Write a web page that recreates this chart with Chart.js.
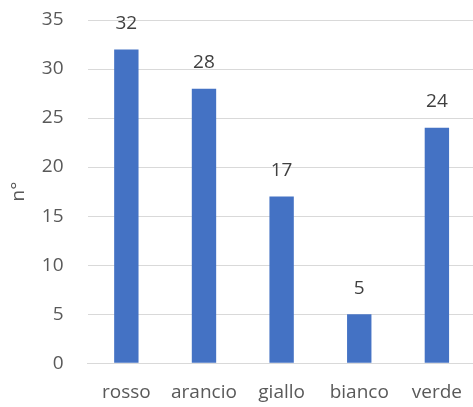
<!DOCTYPE html>
<html>
<head>
<meta charset="utf-8">
<script src="https://cdn.jsdelivr.net/npm/chart.js@4"></script>
<style>
  html, body { margin: 0; padding: 0; background: #fff; overflow: hidden; }
  #wrap { width: 480px; height: 407px; position: relative; }
</style>
</head>
<body>
<div id="wrap"><canvas id="chart"></canvas></div>
<script>
// chart data
const categories = ['rosso', 'arancio', 'giallo', 'bianco', 'verde'];
const counts = [32, 28, 17, 5, 24];
const yTicks = [0, 5, 10, 15, 20, 25, 30, 35];

// draw value labels above each bar
const valueLabels = {
    id: 'valueLabels',
    afterDatasetsDraw(chart) {
        const ctx = chart.ctx;
        const meta = chart.getDatasetMeta(0);
        ctx.save();
        ctx.font = '19px "Open Sans", sans-serif';
        ctx.fillStyle = '#404040';
        ctx.textAlign = 'center';
        ctx.textBaseline = 'middle';
        meta.data.forEach((bar, i) => {
            ctx.fillText(String(counts[i]), bar.x, bar.y - 26);
        });
        ctx.restore();
    }
};

new Chart(document.getElementById('chart'), {
    type: 'bar',
    data: {
        labels: categories,
        datasets: [{
            data: counts,
            backgroundColor: '#4472C4',
            categoryPercentage: 1,
            barPercentage: 0.314
        }]
    },
    options: {
        responsive: true,
        maintainAspectRatio: false,
        animation: false,
        layout: { padding: { top: 20, right: 0, left: 7, bottom: 3 } },
        plugins: {
            legend: { display: false },
            tooltip: { enabled: false }
        },
        scales: {
            y: {
                min: 0,
                max: 35,
                afterBuildTicks: axis => { axis.ticks = yTicks.map(v => ({ value: v })); },
                // tick padding is counted twice by the library, and also vertically
                afterFit: axis => {
                    axis.width -= 24;
                    axis.paddingTop = 0;
                    axis.paddingBottom = 0;
                },
                border: { display: false },
                grid: { color: '#d9d9d9', lineWidth: 1, drawTicks: false },
                ticks: {
                    color: '#595959',
                    padding: 24,
                    font: { family: '"Open Sans", sans-serif', size: 19 }
                },
                title: {
                    display: true,
                    text: 'n°',
                    color: '#595959',
                    padding: { top: 0, bottom: 12 },
                    font: { family: '"Open Sans", sans-serif', size: 19 }
                }
            },
            x: {
                afterFit: axis => { axis.height -= 18; },
                border: { display: true, color: '#d9d9d9' },
                grid: { display: false, drawTicks: false },
                ticks: {
                    color: '#595959',
                    padding: 18,
                    font: { family: '"Open Sans", sans-serif', size: 19 }
                }
            }
        }
    },
    plugins: [valueLabels]
});
</script>
</body>
</html>
